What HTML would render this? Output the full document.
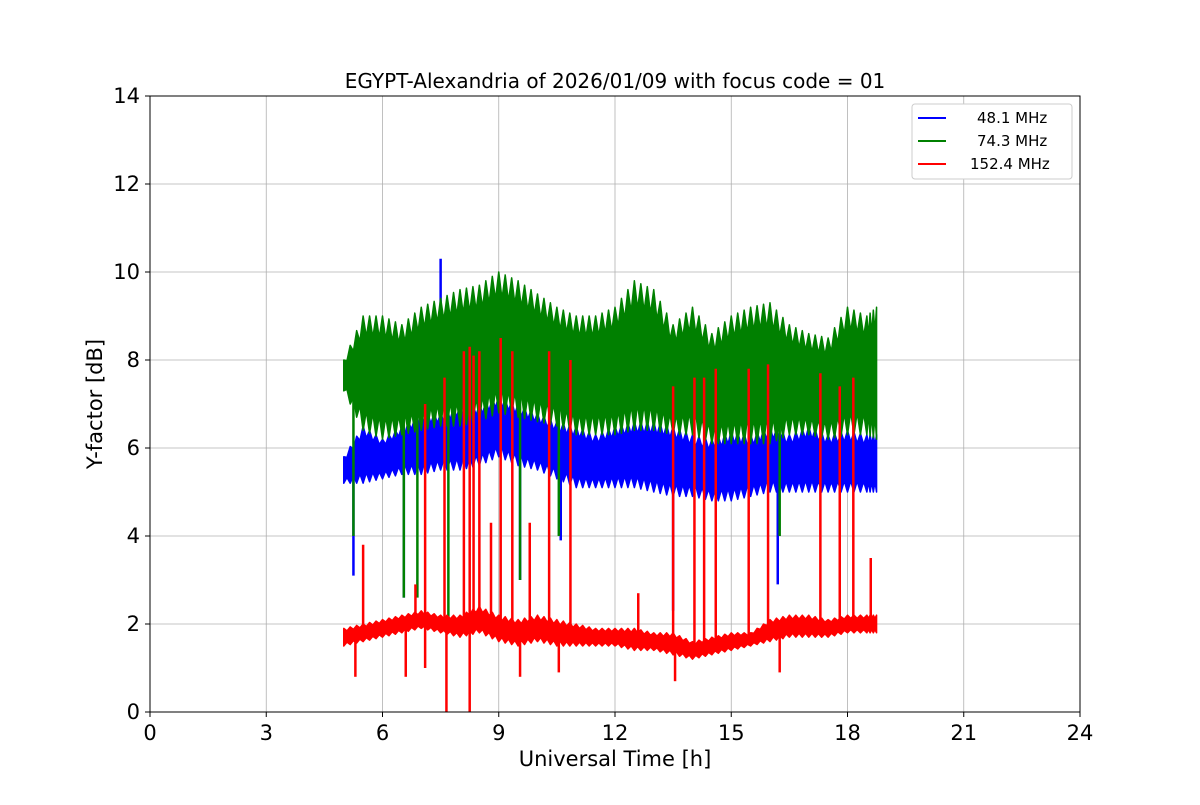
<!DOCTYPE html>
<html><head><meta charset="utf-8"><style>
body{margin:0;background:#fff;font-family:"Liberation Sans","DejaVu Sans",sans-serif}
svg text{font-family:"DejaVu Sans","Liberation Sans",sans-serif}
</style></head><body>
<svg id="chart" width="1200" height="800" xmlns="http://www.w3.org/2000/svg">
<rect width="1200" height="800" fill="#fff"/>
<g id="grid"></g>
<g id="series"></g>
<rect x="150" y="96" width="930" height="616" fill="none" stroke="#000" stroke-width="1"/>
<g id="axes"></g>
<text x="615" y="88" text-anchor="middle" font-size="20">EGYPT-Alexandria of 2026/01/09 with focus code = 01</text>
<text x="615" y="766" text-anchor="middle" font-size="21">Universal Time [h]</text>
<text x="102" y="404" text-anchor="middle" font-size="21" transform="rotate(-90 102 404)">Y-factor [dB]</text>
<g>
<rect x="912" y="104" width="160" height="75" rx="3" fill="#fff" stroke="#ccc"/>
<line x1="918" y1="118" x2="946" y2="118" stroke="blue" stroke-width="2"/>
<text x="977" y="123" font-size="15">48.1 MHz</text>
<line x1="918" y1="141" x2="946" y2="141" stroke="green" stroke-width="2"/>
<text x="977" y="146" font-size="15">74.3 MHz</text>
<line x1="918" y1="164" x2="946" y2="164" stroke="red" stroke-width="2"/>
<text x="970" y="169" font-size="15">152.4 MHz</text>
</g>
</svg>
<script>
const times=[5,5.5,6,6.5,7,7.5,8,8.5,9,9.5,10,10.5,11,11.5,12,12.5,13,13.5,14,14.5,15,15.5,16,16.5,17,17.5,18,18.5,18.75];
const greenLo=[7.3,6.4,6.2,6.3,6.4,6.5,6.5,6.6,6.8,6.7,6.6,6.5,6.3,6.3,6.3,6.4,6.4,6.3,6.3,6.1,6.1,6.1,6.1,6.3,6.3,6.2,6.3,6.3,6.2];
const greenHi=[8.0,9.0,9.0,8.8,9.2,9.4,9.6,9.7,10.0,9.8,9.5,9.2,9.0,9.0,9.2,9.8,9.6,8.8,9.2,8.6,9.0,9.2,9.3,8.8,8.6,8.5,9.2,9.0,9.2];
const blueLo=[5.2,5.2,5.3,5.4,5.4,5.5,5.5,5.6,5.8,5.6,5.5,5.3,5.1,5.1,5.1,5.1,5.0,4.9,4.9,4.8,4.8,4.9,5.0,5.0,5.0,5.0,5.0,5.0,5.0];
const blueHi=[5.8,6.5,6.2,6.5,6.8,6.8,7.0,7.0,7.2,7.0,6.8,6.6,6.5,6.3,6.5,6.6,6.6,6.5,6.3,6.2,6.4,6.3,6.5,6.3,6.5,6.3,6.4,6.3,6.3];
const redLo=[1.5,1.6,1.7,1.8,1.9,1.8,1.7,1.8,1.6,1.5,1.6,1.5,1.5,1.5,1.5,1.4,1.4,1.3,1.2,1.3,1.4,1.5,1.6,1.7,1.7,1.7,1.8,1.8,1.8];
const redHi=[1.9,2.0,2.1,2.2,2.3,2.2,2.2,2.4,2.2,2.1,2.2,2.1,2.0,1.9,1.9,1.9,1.8,1.8,1.6,1.7,1.8,1.8,2.1,2.2,2.2,2.1,2.2,2.2,2.2];
const redSpikeT=[5.5,6.85,7.1,7.6,8.1,8.25,8.35,8.5,8.8,9.05,9.35,9.8,10.3,10.85,12.6,13.5,14.05,14.3,14.6,15.45,15.95,17.3,17.8,18.15,18.6,5.3,6.6,7.1,7.65,8.25,9.55,10.55,13.55,16.25];
const redSpikeV=[3.8,2.9,7.0,7.6,8.2,8.3,8.1,8.2,4.3,8.5,8.2,4.3,8.2,8.0,2.7,7.4,7.6,7.6,7.8,7.8,7.9,7.7,7.4,7.6,3.5,0.8,0.8,1.0,0,0,0.8,0.9,0.7,0.9];
const blueSpikeT=[5.25,6.55,9.55,10.6,13.5,16.2,7.5];
const blueSpikeV=[3.1,2.6,3.0,3.9,2.3,2.9,10.3];
const greenSpikeT=[5.25,6.55,6.9,7.7,9.55,10.55,16.25];
const greenSpikeV=[4.0,2.6,2.6,1.9,3.0,4.0,4.0];
const xTicks=[0,3,6,9,12,15,18,21,24];
const yTicks=[0,2,4,6,8,10,12,14];
const NS='http://www.w3.org/2000/svg';
const X=t=>150+t*930/24, Y=v=>712-v*616/14;
function mk(tag,attrs,parent){const e=document.createElementNS(NS,tag);for(const k in attrs)e.setAttribute(k,attrs[k]);parent.appendChild(e);return e;}
const grid=document.getElementById('grid'),axes=document.getElementById('axes'),ser=document.getElementById('series');
xTicks.forEach(t=>{
 const g=mk('line',{x1:X(t),x2:X(t),y1:96,y2:712,stroke:'#b0b0b0','stroke-width':0.8},grid);
 
 
 mk('line',{x1:X(t),x2:X(t),y1:712,y2:717,stroke:'#000'},axes);
 const l=mk('text',{x:X(t),y:740,'text-anchor':'middle','font-size':21},axes);l.textContent=t;
 
 
});
yTicks.forEach(v=>{
 const g=mk('line',{x1:150,x2:1080,y1:Y(v),y2:Y(v),stroke:'#b0b0b0','stroke-width':0.8},grid);
 
 
 mk('line',{x1:145,x2:150,y1:Y(v),y2:Y(v),stroke:'#000'},axes);
 const l=mk('text',{x:140,y:Y(v)+7,'text-anchor':'end','font-size':21},axes);l.textContent=v;
 
 
});
function band(lo,hi,col,name,st,sv){
 const g=mk('g',{},ser);
 
 
 // jagged edges: sub-steps alternating between envelope and slightly inside it
 const SUB=6;let top=[],bot=[];
 for(let i=0;i<times.length-1;i++){
  for(let s=0;s<SUB;s++){
   const f=s/SUB,t=times[i]+(times[i+1]-times[i])*f;
   const h=hi[i]+(hi[i+1]-hi[i])*f,l=lo[i]+(lo[i+1]-lo[i])*f;
   const w=(h-l)*0.18*((s%2)?1:0);
   top.push(X(t)+','+Y(h-w));bot.push(X(t)+','+Y(l+w));
  }
 }
 const n=times.length-1;
 top.push(X(times[n])+','+Y(hi[n]));bot.push(X(times[n])+','+Y(lo[n]));
 mk('polygon',{points:top.concat(bot.reverse()).join(' '),fill:col,stroke:col,'stroke-width':1.5,'stroke-linejoin':'round'},g);
 st.forEach((t,i)=>{
  let k=0;while(k<times.length-2&&times[k+1]<t)k++;
  const mid=(lo[k]+hi[k])/2;
  const s=mk('line',{x1:X(t),x2:X(t),y1:Y(mid),y2:Y(sv[i]),stroke:col,'stroke-width':2.5},g);
  
  
 });
}
band(blueLo,blueHi,'blue','series-48mhz',blueSpikeT,blueSpikeV);
band(greenLo,greenHi,'green','series-74mhz',greenSpikeT,greenSpikeV);
band(redLo,redHi,'red','series-152mhz',redSpikeT,redSpikeV);
</script>
</body></html>
